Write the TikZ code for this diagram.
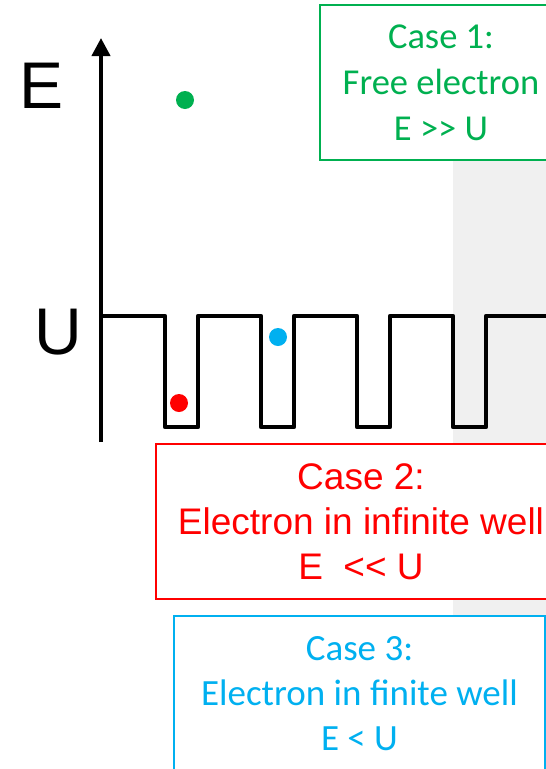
\documentclass[tikz,border=0pt]{standalone}
\usepackage{fontspec}
\setmainfont{Liberation Sans}
\newfontfamily\calibri{Carlito}
\usetikzlibrary{arrows.meta, positioning}
\definecolor{casegreen}{HTML}{00B050}
\definecolor{casered}{HTML}{FF0000}
\definecolor{casecyan}{HTML}{00B0F0}
\definecolor{shadegray}{HTML}{F0F0F0}
\tikzset{
  casebox/.style={rectangle, draw, fill=white, line width=1.5pt, align=center, minimum height=155pt, inner sep=0pt},
  potline/.style={line width=4.5pt, line join=round},
  axisarr/.style={line width=4pt, -{Triangle[length=18pt, width=18pt]}},
  dot/.style={circle, inner sep=0pt, minimum size=18pt},
  axislabel/.style={font=\fontsize{66}{66}\selectfont},
}

\begin{document}
\begin{tikzpicture}[x=1pt, y=-1pt]
\useasboundingbox (0,0) rectangle (546,769);
\clip (0,0) rectangle (546,769);
% shaded strip on the right
\fill[shadegray] (453,160) rectangle (546,615);
% periodic potential
\draw[potline] (102,316) \foreach \k in {0,...,3} {
  -- ({165+96*\k},316) -- ({165+96*\k},427) -- ({198+96*\k},427) -- ({198+96*\k},316) } -- (560,316);
% energy axis
\coordinate (origin) at (101,442);
\coordinate (top) at (101,38);
\draw[axisarr] (origin) -- (top);
\node[axislabel] (elabel) at (42,86) {E};
\node[axislabel] (ulabel) at (58,332) {U};
% electrons
\node[dot, fill=casegreen] (freedot) at (185,100) {};
\node[dot, fill=casered] (infdot) at (179,403) {};
\node[dot, fill=casecyan] (findot) at (278,337) {};
% cases
\node[casebox, draw=casegreen, text=casegreen, minimum width=242pt, font=\calibri\fontsize{36.5}{46}\selectfont] (case1) at (441,82.5)
  {Case 1:\\Free electron\\E >\kern0pt> U};
\node[casebox, draw=casered, text=casered, minimum width=410pt, font=\fontsize{37}{45}\selectfont] (case2) at (361,521.5)
  {Case 2:\\Electron in infinite well\\E\ \ <\kern0pt< U};
\node[casebox, draw=casecyan, text=casecyan, minimum width=371pt, font=\calibri\fontsize{37}{45}\selectfont] (case3) at (359.5,693.5)
  {Case 3:\\Electron in finite well\\E < U};
\end{tikzpicture}
\end{document}
